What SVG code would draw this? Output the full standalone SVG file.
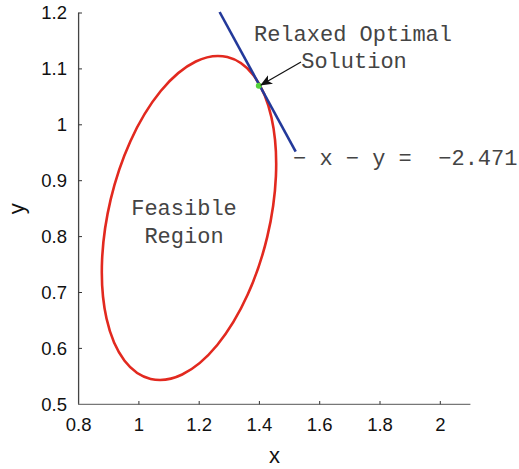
<svg xmlns="http://www.w3.org/2000/svg" width="519" height="469" viewBox="0 0 519 469">
<style>
.tick{font-family:"Liberation Sans",Arial,sans-serif;font-size:18.5px;fill:#111}
.lab{font-family:"Liberation Sans",Arial,sans-serif;font-size:22px;fill:#111}
.mono{font-family:"Liberation Mono","Courier New",monospace;font-size:22px;fill:#444}
.tk{stroke:#333;stroke-width:1}
</style>
<defs>
<marker id="ah" viewBox="0 0 12 10" refX="11" refY="5" markerWidth="12" markerHeight="10" markerUnits="userSpaceOnUse" orient="auto">
<path d="M0,0 L12,5 L0,10 L3,5 Z" fill="#111"/>
</marker>
</defs>
<rect width="519" height="469" fill="#fff"/>
<g id="axes">
<line x1="78.6" y1="12.5" x2="78.6" y2="404.3" stroke="#444" stroke-width="1.3"/>
<line x1="78" y1="404.3" x2="470.4" y2="404.3" stroke="#777" stroke-width="1.3"/>
<g class="tk">
<line x1="78.6" y1="13" x2="82" y2="13"/>
<line x1="78.6" y1="68.9" x2="82" y2="68.9"/>
<line x1="78.6" y1="124.8" x2="82" y2="124.8"/>
<line x1="78.6" y1="180.7" x2="82" y2="180.7"/>
<line x1="78.6" y1="236.6" x2="82" y2="236.6"/>
<line x1="78.6" y1="292.5" x2="82" y2="292.5"/>
<line x1="78.6" y1="348.4" x2="82" y2="348.4"/>
<line x1="138.9" y1="404.3" x2="138.9" y2="401"/>
<line x1="199.2" y1="404.3" x2="199.2" y2="401"/>
<line x1="259.4" y1="404.3" x2="259.4" y2="401"/>
<line x1="319.7" y1="404.3" x2="319.7" y2="401"/>
<line x1="380" y1="404.3" x2="380" y2="401"/>
<line x1="440.3" y1="404.3" x2="440.3" y2="401"/>
</g>
<g class="tick" text-anchor="end">
<text x="67" y="19.3">1.2</text>
<text x="67" y="75.2">1.1</text>
<text x="67" y="131.1">1</text>
<text x="67" y="187">0.9</text>
<text x="67" y="242.9">0.8</text>
<text x="67" y="298.8">0.7</text>
<text x="67" y="354.7">0.6</text>
<text x="67" y="410.6">0.5</text>
</g>
<g class="tick" text-anchor="middle">
<text x="78.6" y="431">0.8</text>
<text x="138.9" y="431">1</text>
<text x="199.2" y="431">1.2</text>
<text x="259.4" y="431">1.4</text>
<text x="319.7" y="431">1.6</text>
<text x="380" y="431">1.8</text>
<text x="440.3" y="431">2</text>
</g>
<text class="lab" x="274.5" y="463.3" text-anchor="middle">x</text>
<text class="lab" transform="translate(24.2,208.8) rotate(-90)" text-anchor="middle">y</text>
</g>
<g id="feasible-region">
<ellipse cx="189" cy="218" rx="80.5" ry="165.4" transform="rotate(13.4 189 218)" fill="none" stroke="#e2291f" stroke-width="2.6"/>
<text class="mono" x="184" y="215" text-anchor="middle">Feasible</text>
<text class="mono" x="184" y="242.5" text-anchor="middle">Region</text>
</g>
<g id="constraint-line">
<line x1="219.6" y1="12" x2="295.7" y2="151.7" stroke="#23399a" stroke-width="2.6"/>
<text class="mono" x="293" y="165" xml:space="preserve">− x − y =  −2.471</text>
</g>
<g id="optimal-point">
<circle cx="258.8" cy="85.8" r="3" fill="#55d23a"/>
<text class="mono" x="353" y="41" text-anchor="middle">Relaxed Optimal</text>
<text class="mono" x="354" y="68.3" text-anchor="middle">Solution</text>
</g>
<g id="connectors">
<line x1="301" y1="62" x2="261" y2="85" stroke="#111" stroke-width="1.2" marker-end="url(#ah)"/>
</g>
</svg>
